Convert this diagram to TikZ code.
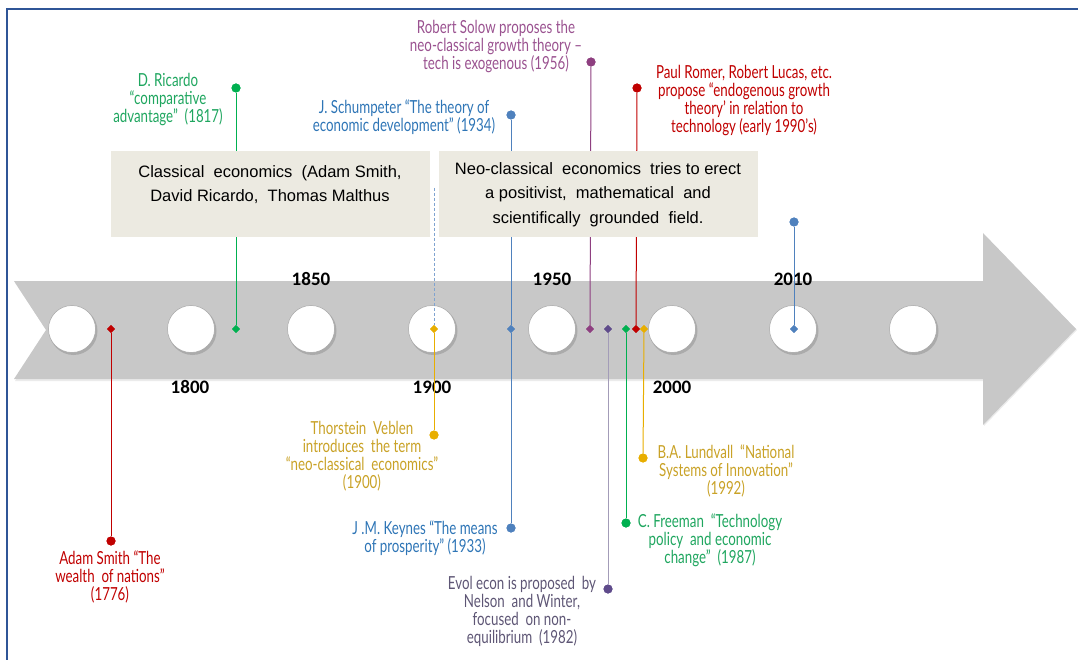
\documentclass[tikz,border=0pt]{standalone}
\usepackage{fontspec}
\usetikzlibrary{shapes.geometric}
\newfontfamily\lblfont[FakeStretch=0.74]{Lato}
\newfontfamily\boxfont{Liberation Sans}
\newfontfamily\yearfont{Carlito}
\definecolor{frameblue}{HTML}{2F5597}
\definecolor{bandgray}{HTML}{C8C8C8}
\definecolor{panelbg}{HTML}{ECEAE1}
\definecolor{cred}{HTML}{C00000}
\definecolor{cgreen}{HTML}{00B050}
\definecolor{tgreen}{HTML}{1FA65F}
\definecolor{cblue}{HTML}{4F81BD}
\definecolor{tblue}{HTML}{2E75B6}
\definecolor{cgold}{HTML}{E8AE00}
\definecolor{tgold}{HTML}{C9A227}
\definecolor{cplum}{HTML}{8E3F80}
\definecolor{tplum}{HTML}{9A5290}
\definecolor{cviolet}{HTML}{5F4B8B}
\definecolor{lviolet}{HTML}{A39CB8}
\definecolor{tviolet}{HTML}{5E5675}
\definecolor{dashblue}{HTML}{7FA3D0}
\begin{document}
\begin{tikzpicture}[x=1pt,y=-1pt,
  lbl/.style={font=\lblfont\fontsize{18}{18}\selectfont, align=center, inner sep=0pt},
  tdia/.style={diamond, fill=#1, inner sep=0pt, minimum size=8pt},
  tdot/.style={circle, fill=#1, inner sep=0pt, minimum size=9pt},
  stem/.style={draw=#1, line width=1pt},
  yr/.style={font=\yearfont\bfseries\fontsize{19}{22}\selectfont, inner sep=0pt},
  hole/.style={circle, fill=white, draw=black!35, line width=0.5pt, minimum size=47pt, inner sep=0pt},
  paneltext/.style={font=\boxfont\fontsize{16.5}{24.5}\selectfont, align=center, inner sep=0pt}]
\useasboundingbox (0,0) rectangle (1078,660);

% frame
\draw[frameblue, line width=2pt] (7,662) -- (7,9) -- (1080,9);

% time band with notched tail and arrow head
\fill[black!8] (15,283) -- (984,283) -- (984,235) -- (1077,330) -- (984,426) -- (984,381) -- (15,381) -- (47,331) -- cycle;
\fill[bandgray] (14,281) -- (983,281) -- (983,233) -- (1076,329) -- (983,425) -- (983,379) -- (14,379) -- (46,330) -- cycle;

% holes along the band
\foreach \i/\x in {1/72,2/191,3/311,4/432,5/552,6/672,7/793,8/913}{
  \fill[black!40, opacity=0.6] (\x+1.5,331) circle (24);
  \node[hole] (h\i) at (\x,329) {};
}

% year labels
\node[yr] (y1800) at (190,387) {1800};
\node[yr] (y1850) at (311,279) {1850};
\node[yr] (y1900) at (432,387) {1900};
\node[yr] (y1950) at (552,279) {1950};
\node[yr] (y2000) at (672,387) {2000};
\node[yr] (y2010) at (793,279) {2010};

% markers on the band
\node[tdia=cred]    (dSmith)    at (111,329) {};
\node[tdia=cgreen]  (dRicardo)  at (236,329) {};
\node[tdia=cgold]   (dVeblen)   at (434,329) {};
\node[tdia=cblue]   (dSchump)   at (511,329) {};
\node[tdia=cplum]   (dSolow)    at (590,329) {};
\node[tdia=cviolet] (dEvol)     at (608,329) {};
\node[tdia=cgreen]  (dFreeman)  at (626,329) {};
\node[tdia=cred]    (dRomer)    at (636,329) {};
\node[tdia=cgold]   (dLundvall) at (644,329) {};
\node[tdia=cblue]   (d2010)     at (794,329) {};

% end points of the stems
\node[tdot=cgreen]  (pRicardo)  at (236,88) {};
\node[tdot=cblue]   (pSchump)   at (511,115) {};
\node[tdot=cplum]   (pSolow)    at (591,62) {};
\node[tdot=cred]    (pRomer)    at (637,88) {};
\node[tdot=cblue]   (p2010)     at (794,222) {};
\node[tdot=cred]    (pSmith)    at (111,541) {};
\node[tdot=cgold]   (pVeblen)   at (434,435) {};
\node[tdot=cblue]   (pKeynes)   at (511,528) {};
\node[tdot=cviolet] (pEvol)     at (608,589) {};
\node[tdot=cgreen]  (pFreeman)  at (626,523) {};
\node[tdot=cgold]   (pLundvall) at (643,458) {};
\coordinate (vTop) at (434,188);

% stems
\draw[stem=cgreen]  (pRicardo) -- (dRicardo);
\draw[stem=cblue]   (pSchump) -- (dSchump);
\draw[stem=cblue]   (dSchump) -- (pKeynes);
\draw[stem=cplum]   (pSolow) -- (dSolow);
\draw[stem=cred]    (pRomer) -- (dRomer);
\draw[stem=cblue]   (p2010) -- (d2010);
\draw[stem=cred]    (dSmith) -- (pSmith);
\draw[stem=cgold]   (dVeblen) -- (pVeblen);
\draw[stem=lviolet] (dEvol) -- (pEvol);
\draw[stem=cgreen]  (dFreeman) -- (pFreeman);
\draw[stem=cgold]   (dLundvall) -- (pLundvall);
\draw[dashblue, line width=0.8pt, dash pattern=on 3pt off 2pt] (vTop) -- (dVeblen);

% redraw markers and end points above the stems
\foreach \n/\c in {dSmith/cred,dRicardo/cgreen,dVeblen/cgold,dSchump/cblue,dSolow/cplum,dEvol/cviolet,dFreeman/cgreen,dRomer/cred,dLundvall/cgold,d2010/cblue}{
  \node[tdia=\c] at (\n) {};
}
\foreach \n/\c in {pRicardo/cgreen,pSchump/cblue,pSolow/cplum,pRomer/cred,p2010/cblue,pSmith/cred,pVeblen/cgold,pKeynes/cblue,pEvol/cviolet,pFreeman/cgreen,pLundvall/cgold}{
  \node[tdot=\c] at (\n) {};
}

% period panels
\fill[panelbg] (111,151) rectangle (430,237);
\fill[panelbg] (439,151) rectangle (758,237);
\coordinate (panelA) at (270,151);
\coordinate (panelB) at (598,151);
\node[paneltext, anchor=north] (tA) at ([yshift=-14pt]panelA) {Classical\ \ economics\ \ (Adam Smith,\\David Ricardo,\ \ Thomas Malthus};
\node[paneltext, anchor=north] (tB) at ([yshift=-11pt]panelB) {Neo-classical\ \ economics\ \ tries to erect\\a positivist,\ \ mathematical\ \ and\\scientifically\ \ grounded\ \ field.};

% event labels
\node[lbl, text=tgreen]  (lRicardo)  at (168,100) {D. Ricardo\\“comparative\\advantage”\ \ (1817)};
\node[lbl, text=tplum]   (lSolow)    at (496,47)  {Robert\ Solow\ proposes\ the\\neo-classical\ growth\ theory\ –\\tech\ is\ exogenous\ (1956)};
\node[lbl, text=tblue]   (lSchump)   at (404,117) {J. Schumpeter\ “The theory of\\economic\ development”\ (1934)};
\node[lbl, text=cred]    (lRomer)    at (744,101) {Paul Romer, Robert\ Lucas,\ etc.\\propose\ “endogenous\ growth\\theory’ in relation to\\technology\ (early 1990’s)};
\node[lbl, text=tgold]   (lVeblen)   at (362,456) {Thorstein\ \ Veblen\\introduces\ \ the\ term\\“neo-classical\ \ economics”\\(1900)};
\node[lbl, text=tblue]   (lKeynes)   at (425,538) {J .M. Keynes\ “The means\\of\ prosperity”\ (1933)};
\node[lbl, text=cred]    (lSmith)    at (110,577) {Adam Smith\ “The\\wealth\ \ of nations”\\(1776)};
\node[lbl, text=tviolet] (lEvol)     at (522,611) {Evol\ econ\ is\ proposed\ \ by\\Nelson\ \ and\ Winter,\\focused\ \ on\ non-\\equilibrium\ \ (1982)};
\node[lbl, text=tgold]   (lLundvall) at (726,471) {B.A.\ Lundvall\ \ “National\\Systems\ of\ Innovation”\\(1992)};
\node[lbl, text=tgreen]  (lFreeman)  at (710,540) {C.\ Freeman\ \ “Technology\\policy\ \ and\ economic\\change”\ \ (1987)};
\end{tikzpicture}
\end{document}
